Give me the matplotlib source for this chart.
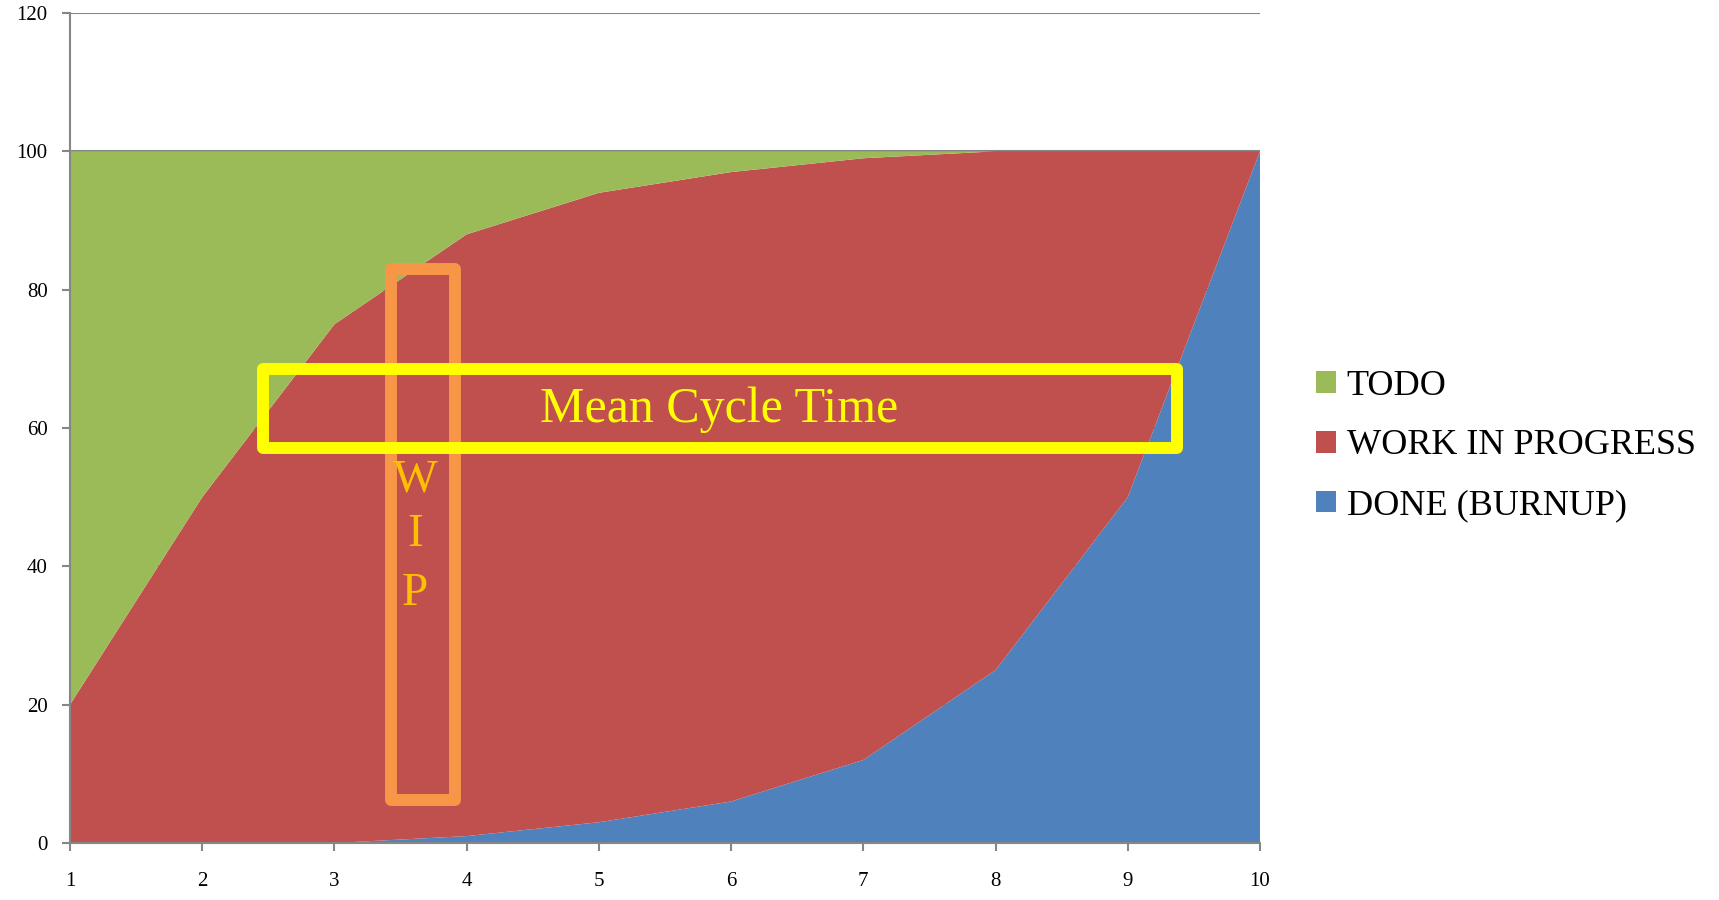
import matplotlib.pyplot as plt
from matplotlib.patches import Rectangle, Patch

# cumulative flow data
days = [1, 2, 3, 4, 5, 6, 7, 8, 9, 10]
done = [0, 0, 0, 1, 3, 6, 12, 25, 50, 100]
wip = [20, 50, 75, 87, 91, 91, 87, 75, 50, 0]
todo = [80, 50, 25, 12, 6, 3, 1, 0, 0, 0]

labels = ["TODO", "WORK IN PROGRESS", "DONE (BURNUP)"]
colors = {"TODO": "#9BBB59", "WORK IN PROGRESS": "#C0504D", "DONE (BURNUP)": "#4F81BD"}
y_ticks = [0, 20, 40, 60, 80, 100, 120]

plt.rcParams['font.family'] = ['Liberation Serif', 'DejaVu Serif']

fig = plt.figure(figsize=(17.19, 9), dpi=100)
ax = fig.add_axes([70 / 1719, 1 - 843 / 900, (1260 - 70) / 1719, (843 - 13) / 900])

ax.stackplot(days, done, wip, todo,
             colors=[colors["DONE (BURNUP)"], colors["WORK IN PROGRESS"], colors["TODO"]],
             zorder=2)

ax.set_xlim(1, 10)
ax.set_ylim(0, 120)
ax.set_xticks(days)
ax.set_yticks(y_ticks)
ax.yaxis.grid(True, color="#868686", linewidth=1.5, zorder=0)
ax.set_axisbelow(True)
for s in ["top", "right"]:
    ax.spines[s].set_visible(False)
for s in ["left", "bottom"]:
    ax.spines[s].set_color("#868686")
    ax.spines[s].set_linewidth(1.5)
    ax.spines[s].set_zorder(3)
ax.tick_params(axis="both", direction="out", length=6, width=1.5, color="#868686",
               labelsize=15)
ax.tick_params(axis="y", pad=10)
ax.tick_params(axis="x", pad=15)

# annotation boxes
ax.add_patch(Rectangle((3.43, 6.2), 0.485, 76.8, fill=False, edgecolor="#F79646",
                       linewidth=8.6, joinstyle="round", zorder=4))
ax.add_patch(Rectangle((2.46, 57.1), 6.91, 11.5, fill=False, edgecolor="#FFFF00",
                       linewidth=8.6, joinstyle="round", zorder=5))
ax.text(5.91, 62.6, "Mean Cycle Time", color="#FFFF00", fontsize=36,
        ha="center", va="center", zorder=6)
for letter, yv in zip(["W", "I", "P"], [52.5, 44.5, 36.0]):
    ax.text(3.61, yv, letter, color="#FFC000", fontsize=34, ha="center", va="center",
            zorder=6)

handles = [Patch(facecolor=colors[l], edgecolor="none") for l in labels]
fig.legend(handles, labels, loc="center left", bbox_to_anchor=(1298 / 1719, 1 - 446 / 900),
           frameon=False, fontsize=26, handlelength=0.55, handleheight=0.55,
           handletextpad=0.3, labelspacing=0.74, borderpad=0)

fig.savefig("out.png", dpi=100)
